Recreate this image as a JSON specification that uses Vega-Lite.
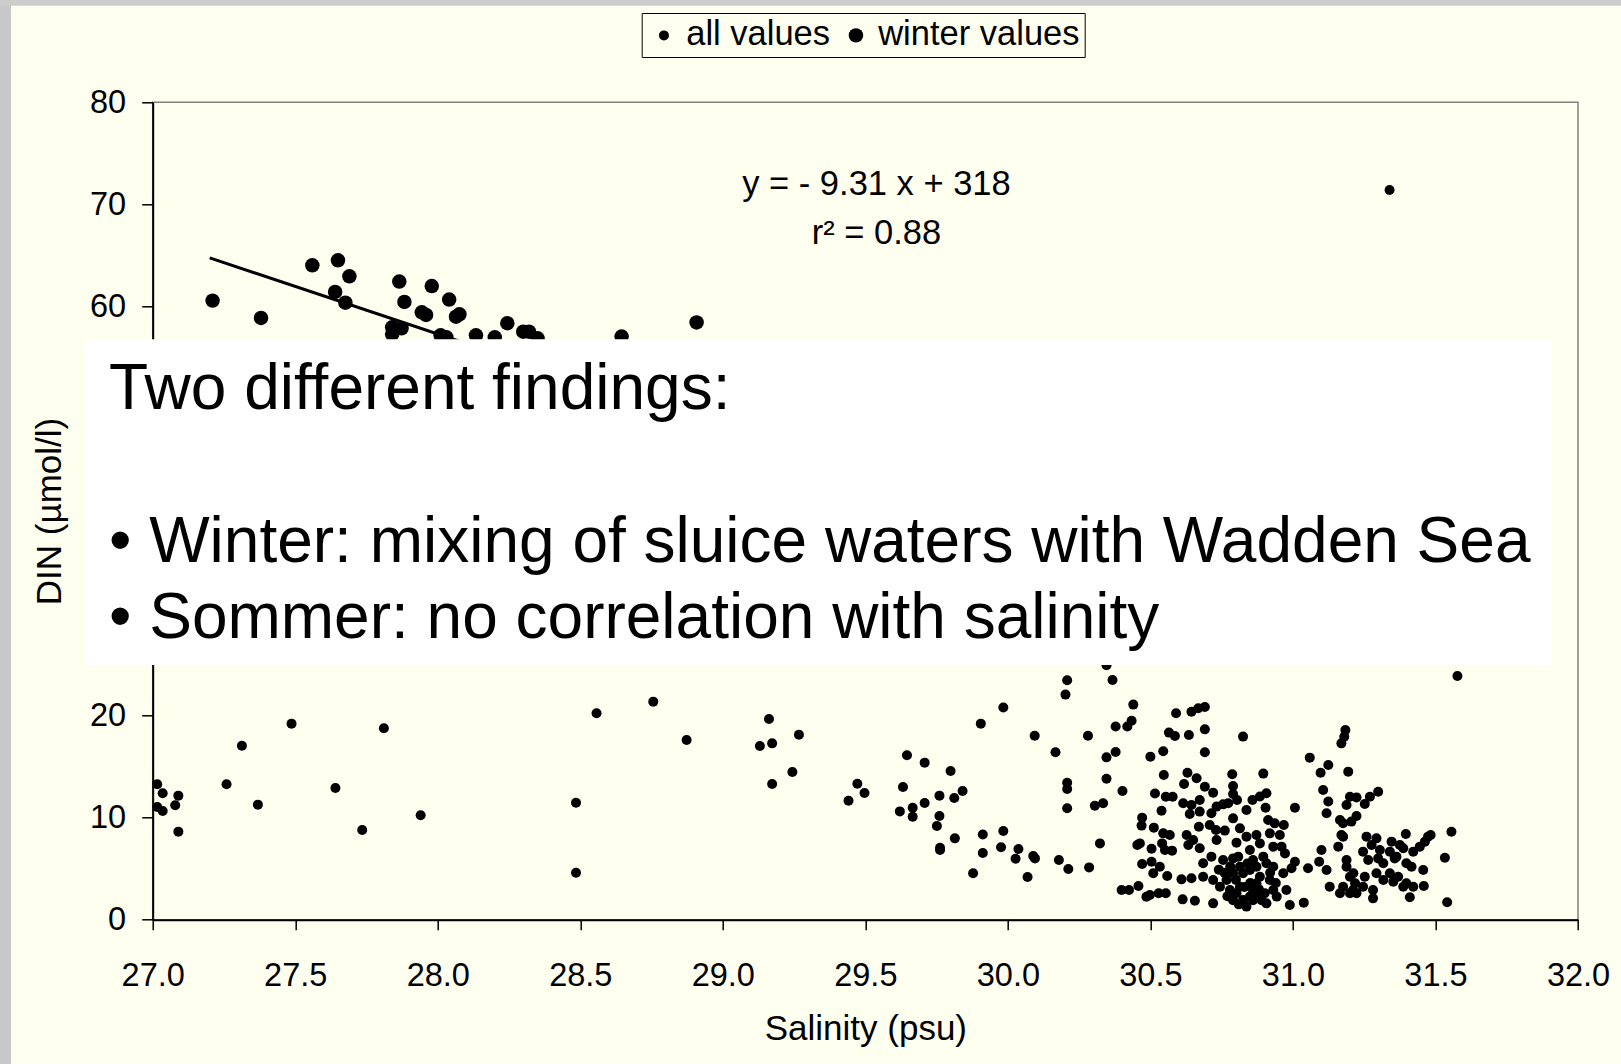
{
  "$schema": "https://vega.github.io/schema/vega-lite/v6.json",
  "width": 1425.3,
  "height": 817.4,
  "autosize": {"type": "none"},
  "padding": {"left": 152.7, "top": 102.3, "right": 43, "bottom": 144.3},
  "background": "#FFFFF0",
  "config": {
    "font": "Liberation Sans",
    "view": {"stroke": "#808080", "strokeWidth": 1.5},
    "axis": {
      "domainColor": "black", "domainWidth": 2, "tickColor": "black", "tickWidth": 1.5,
      "labelColor": "black", "titleColor": "black", "titleFontWeight": "normal", "grid": false,
      "labelFont": "Liberation Sans", "titleFont": "Liberation Sans", "labelFlush": false, "labelOverlap": false,
      "labelFontSize": 32.5, "titleFontSize": 35
    },
    "axisX": {"tickSize": 10, "labelPadding": 30, "titlePadding": 19},
    "axisY": {"tickSize": 11, "labelPadding": 16, "titlePadding": 22}
  },
  "datasets": {
    "fit": [
      {"salinity": 27.2, "din": 64.77},
      {"salinity": 30.5, "din": 34.05}
    ],
    "samples": [
      {"salinity": 27.21, "din": 60.59, "series": "winter values"},
      {"salinity": 27.38, "din": 58.9, "series": "winter values"},
      {"salinity": 27.56, "din": 64.05, "series": "winter values"},
      {"salinity": 27.65, "din": 64.54, "series": "winter values"},
      {"salinity": 27.69, "din": 62.97, "series": "winter values"},
      {"salinity": 27.64, "din": 61.44, "series": "winter values"},
      {"salinity": 27.676, "din": 60.39, "series": "winter values"},
      {"salinity": 27.865, "din": 62.45, "series": "winter values"},
      {"salinity": 27.883, "din": 60.46, "series": "winter values"},
      {"salinity": 27.944, "din": 59.45, "series": "winter values"},
      {"salinity": 27.959, "din": 59.19, "series": "winter values"},
      {"salinity": 27.979, "din": 62.02, "series": "winter values"},
      {"salinity": 28.04, "din": 60.69, "series": "winter values"},
      {"salinity": 28.064, "din": 59.02, "series": "winter values"},
      {"salinity": 28.076, "din": 59.25, "series": "winter values"},
      {"salinity": 27.84, "din": 57.98, "series": "winter values"},
      {"salinity": 27.873, "din": 57.88, "series": "winter values"},
      {"salinity": 27.84, "din": 57.3, "series": "winter values"},
      {"salinity": 28.01, "din": 57.2, "series": "winter values"},
      {"salinity": 28.03, "din": 57.0, "series": "winter values"},
      {"salinity": 28.134, "din": 57.2, "series": "winter values"},
      {"salinity": 28.2, "din": 57.0, "series": "winter values"},
      {"salinity": 28.244, "din": 58.38, "series": "winter values"},
      {"salinity": 28.30, "din": 57.55, "series": "winter values"},
      {"salinity": 28.32, "din": 57.55, "series": "winter values"},
      {"salinity": 28.35, "din": 56.9, "series": "winter values"},
      {"salinity": 28.645, "din": 57.07, "series": "winter values"},
      {"salinity": 28.908, "din": 58.45, "series": "winter values"},
      {"salinity": 28.5, "din": 52.5, "series": "winter values"},
      {"salinity": 28.8, "din": 50.0, "series": "winter values"},
      {"salinity": 29.2, "din": 46.0, "series": "winter values"},
      {"salinity": 29.6, "din": 42.5, "series": "winter values"},
      {"salinity": 30.0, "din": 38.0, "series": "winter values"},
      {"salinity": 30.3, "din": 35.5, "series": "winter values"},
      {"salinity": 27.016, "din": 13.25, "series": "all values"},
      {"salinity": 27.035, "din": 12.37, "series": "all values"},
      {"salinity": 27.090, "din": 12.14, "series": "all values"},
      {"salinity": 27.016, "din": 11.03, "series": "all values"},
      {"salinity": 27.035, "din": 10.64, "series": "all values"},
      {"salinity": 27.079, "din": 11.20, "series": "all values"},
      {"salinity": 27.090, "din": 8.62, "series": "all values"},
      {"salinity": 27.259, "din": 13.25, "series": "all values"},
      {"salinity": 27.313, "din": 17.03, "series": "all values"},
      {"salinity": 27.369, "din": 11.26, "series": "all values"},
      {"salinity": 27.487, "din": 19.19, "series": "all values"},
      {"salinity": 27.641, "din": 12.89, "series": "all values"},
      {"salinity": 27.735, "din": 8.78, "series": "all values"},
      {"salinity": 27.811, "din": 18.73, "series": "all values"},
      {"salinity": 27.940, "din": 10.22, "series": "all values"},
      {"salinity": 28.485, "din": 11.45, "series": "all values"},
      {"salinity": 28.485, "din": 4.60, "series": "all values"},
      {"salinity": 28.557, "din": 20.20, "series": "all values"},
      {"salinity": 28.756, "din": 21.34, "series": "all values"},
      {"salinity": 28.873, "din": 17.59, "series": "all values"},
      {"salinity": 29.162, "din": 19.65, "series": "all values"},
      {"salinity": 29.130, "din": 17.00, "series": "all values"},
      {"salinity": 29.173, "din": 17.26, "series": "all values"},
      {"salinity": 29.267, "din": 18.11, "series": "all values"},
      {"salinity": 29.244, "din": 14.46, "series": "all values"},
      {"salinity": 29.173, "din": 13.28, "series": "all values"},
      {"salinity": 29.472, "din": 13.31, "series": "all values"},
      {"salinity": 29.441, "din": 11.65, "series": "all values"},
      {"salinity": 29.497, "din": 12.40, "series": "all values"},
      {"salinity": 29.646, "din": 16.09, "series": "all values"},
      {"salinity": 29.708, "din": 15.37, "series": "all values"},
      {"salinity": 29.799, "din": 14.55, "series": "all values"},
      {"salinity": 29.632, "din": 12.98, "series": "all values"},
      {"salinity": 29.621, "din": 10.60, "series": "all values"},
      {"salinity": 29.666, "din": 10.96, "series": "all values"},
      {"salinity": 29.666, "din": 10.08, "series": "all values"},
      {"salinity": 29.708, "din": 11.42, "series": "all values"},
      {"salinity": 29.760, "din": 12.14, "series": "all values"},
      {"salinity": 29.812, "din": 11.91, "series": "all values"},
      {"salinity": 29.841, "din": 12.60, "series": "all values"},
      {"salinity": 29.760, "din": 10.15, "series": "all values"},
      {"salinity": 29.751, "din": 9.17, "series": "all values"},
      {"salinity": 29.814, "din": 7.96, "series": "all values"},
      {"salinity": 29.762, "din": 7.05, "series": "all values"},
      {"salinity": 29.762, "din": 6.82, "series": "all values"},
      {"salinity": 29.878, "din": 4.54, "series": "all values"},
      {"salinity": 29.905, "din": 19.19, "series": "all values"},
      {"salinity": 29.984, "din": 20.76, "series": "all values"},
      {"salinity": 29.912, "din": 8.33, "series": "all values"},
      {"salinity": 29.912, "din": 6.53, "series": "all values"},
      {"salinity": 29.984, "din": 8.68, "series": "all values"},
      {"salinity": 29.976, "din": 7.09, "series": "all values"},
      {"salinity": 30.037, "din": 6.92, "series": "all values"},
      {"salinity": 30.027, "din": 5.97, "series": "all values"},
      {"salinity": 30.089, "din": 6.23, "series": "all values"},
      {"salinity": 30.095, "din": 6.00, "series": "all values"},
      {"salinity": 30.069, "din": 4.18, "series": "all values"},
      {"salinity": 30.094, "din": 18.01, "series": "all values"},
      {"salinity": 30.167, "din": 16.38, "series": "all values"},
      {"salinity": 30.179, "din": 5.84, "series": "all values"},
      {"salinity": 30.212, "din": 4.96, "series": "all values"},
      {"salinity": 30.208, "din": 23.43, "series": "all values"},
      {"salinity": 30.202, "din": 22.03, "series": "all values"},
      {"salinity": 30.208, "din": 13.41, "series": "all values"},
      {"salinity": 30.208, "din": 12.79, "series": "all values"},
      {"salinity": 30.208, "din": 10.90, "series": "all values"},
      {"salinity": 30.281, "din": 18.01, "series": "all values"},
      {"salinity": 30.285, "din": 5.12, "series": "all values"},
      {"salinity": 30.305, "din": 11.16, "series": "all values"},
      {"salinity": 30.334, "din": 11.39, "series": "all values"},
      {"salinity": 30.323, "din": 7.47, "series": "all values"},
      {"salinity": 30.346, "din": 24.9, "series": "all values"},
      {"salinity": 30.367, "din": 23.46, "series": "all values"},
      {"salinity": 30.346, "din": 15.89, "series": "all values"},
      {"salinity": 30.378, "din": 16.42, "series": "all values"},
      {"salinity": 30.346, "din": 13.80, "series": "all values"},
      {"salinity": 30.378, "din": 18.90, "series": "all values"},
      {"salinity": 30.419, "din": 18.90, "series": "all values"},
      {"salinity": 30.434, "din": 19.48, "series": "all values"},
      {"salinity": 30.440, "din": 21.05, "series": "all values"},
      {"salinity": 30.402, "din": 12.60, "series": "all values"},
      {"salinity": 30.399, "din": 2.91, "series": "all values"},
      {"salinity": 30.425, "din": 2.91, "series": "all values"},
      {"salinity": 30.458, "din": 3.30, "series": "all values"},
      {"salinity": 30.454, "din": 7.31, "series": "all values"},
      {"salinity": 30.463, "din": 7.47, "series": "all values"},
      {"salinity": 30.471, "din": 5.45, "series": "all values"},
      {"salinity": 30.504, "din": 5.68, "series": "all values"},
      {"salinity": 30.533, "din": 5.19, "series": "all values"},
      {"salinity": 30.510, "din": 4.54, "series": "all values"},
      {"salinity": 30.559, "din": 4.28, "series": "all values"},
      {"salinity": 30.486, "din": 2.25, "series": "all values"},
      {"salinity": 30.498, "din": 2.42, "series": "all values"},
      {"salinity": 30.529, "din": 2.58, "series": "all values"},
      {"salinity": 30.554, "din": 2.58, "series": "all values"},
      {"salinity": 30.471, "din": 9.99, "series": "all values"},
      {"salinity": 30.469, "din": 9.21, "series": "all values"},
      {"salinity": 30.512, "din": 9.01, "series": "all values"},
      {"salinity": 30.539, "din": 10.67, "series": "all values"},
      {"salinity": 30.516, "din": 12.36, "series": "all values"},
      {"salinity": 30.547, "din": 14.16, "series": "all values"},
      {"salinity": 30.500, "din": 15.96, "series": "all values"},
      {"salinity": 30.545, "din": 16.48, "series": "all values"},
      {"salinity": 30.565, "din": 18.31, "series": "all values"},
      {"salinity": 30.586, "din": 17.98, "series": "all values"},
      {"salinity": 30.590, "din": 20.20, "series": "all values"},
      {"salinity": 30.504, "din": 6.95, "series": "all values"},
      {"salinity": 30.545, "din": 8.45, "series": "all values"},
      {"salinity": 30.568, "din": 8.29, "series": "all values"},
      {"salinity": 30.541, "din": 7.47, "series": "all values"},
      {"salinity": 30.551, "din": 6.82, "series": "all values"},
      {"salinity": 30.576, "din": 6.76, "series": "all values"},
      {"salinity": 30.554, "din": 12.03, "series": "all values"},
      {"salinity": 30.578, "din": 12.03, "series": "all values"},
      {"salinity": 30.691, "din": 20.81, "series": "all values"},
      {"salinity": 30.668, "din": 20.69, "series": "all values"},
      {"salinity": 30.644, "din": 20.36, "series": "all values"},
      {"salinity": 30.691, "din": 18.63, "series": "all values"},
      {"salinity": 30.635, "din": 18.07, "series": "all values"},
      {"salinity": 30.825, "din": 17.92, "series": "all values"},
      {"salinity": 30.691, "din": 16.38, "series": "all values"},
      {"salinity": 30.630, "din": 14.39, "series": "all values"},
      {"salinity": 30.662, "din": 13.84, "series": "all values"},
      {"salinity": 30.618, "din": 13.28, "series": "all values"},
      {"salinity": 30.691, "din": 13.02, "series": "all values"},
      {"salinity": 30.720, "din": 12.43, "series": "all values"},
      {"salinity": 30.787, "din": 14.23, "series": "all values"},
      {"salinity": 30.896, "din": 14.30, "series": "all values"},
      {"salinity": 30.790, "din": 13.09, "series": "all values"},
      {"salinity": 30.790, "din": 12.30, "series": "all values"},
      {"salinity": 30.804, "din": 11.72, "series": "all values"},
      {"salinity": 30.673, "din": 11.72, "series": "all values"},
      {"salinity": 30.615, "din": 11.39, "series": "all values"},
      {"salinity": 30.644, "din": 11.23, "series": "all values"},
      {"salinity": 30.673, "din": 10.58, "series": "all values"},
      {"salinity": 30.638, "din": 10.35, "series": "all values"},
      {"salinity": 30.714, "din": 10.41, "series": "all values"},
      {"salinity": 30.732, "din": 11.07, "series": "all values"},
      {"salinity": 30.755, "din": 11.29, "series": "all values"},
      {"salinity": 30.773, "din": 11.39, "series": "all values"},
      {"salinity": 30.837, "din": 10.74, "series": "all values"},
      {"salinity": 30.858, "din": 11.72, "series": "all values"},
      {"salinity": 30.884, "din": 12.05, "series": "all values"},
      {"salinity": 30.907, "din": 12.37, "series": "all values"},
      {"salinity": 30.904, "din": 10.96, "series": "all values"},
      {"salinity": 31.007, "din": 10.96, "series": "all values"},
      {"salinity": 30.790, "din": 9.92, "series": "all values"},
      {"salinity": 30.814, "din": 8.94, "series": "all values"},
      {"salinity": 30.913, "din": 9.76, "series": "all values"},
      {"salinity": 30.936, "din": 9.43, "series": "all values"},
      {"salinity": 30.968, "din": 9.27, "series": "all values"},
      {"salinity": 30.954, "din": 8.29, "series": "all values"},
      {"salinity": 30.670, "din": 9.10, "series": "all values"},
      {"salinity": 30.708, "din": 9.27, "series": "all values"},
      {"salinity": 30.730, "din": 8.78, "series": "all values"},
      {"salinity": 30.761, "din": 8.72, "series": "all values"},
      {"salinity": 30.627, "din": 8.29, "series": "all values"},
      {"salinity": 30.650, "din": 7.80, "series": "all values"},
      {"salinity": 30.633, "din": 7.31, "series": "all values"},
      {"salinity": 30.673, "din": 6.99, "series": "all values"},
      {"salinity": 30.732, "din": 7.80, "series": "all values"},
      {"salinity": 30.802, "din": 7.54, "series": "all values"},
      {"salinity": 30.837, "din": 8.13, "series": "all values"},
      {"salinity": 30.872, "din": 8.29, "series": "all values"},
      {"salinity": 30.884, "din": 7.47, "series": "all values"},
      {"salinity": 30.919, "din": 8.45, "series": "all values"},
      {"salinity": 30.931, "din": 7.15, "series": "all values"},
      {"salinity": 30.960, "din": 7.15, "series": "all values"},
      {"salinity": 30.972, "din": 6.49, "series": "all values"},
      {"salinity": 31.007, "din": 5.68, "series": "all values"},
      {"salinity": 30.995, "din": 5.03, "series": "all values"},
      {"salinity": 30.966, "din": 4.54, "series": "all values"},
      {"salinity": 30.685, "din": 5.52, "series": "all values"},
      {"salinity": 30.714, "din": 6.17, "series": "all values"},
      {"salinity": 30.755, "din": 5.84, "series": "all values"},
      {"salinity": 30.790, "din": 6.00, "series": "all values"},
      {"salinity": 30.808, "din": 6.17, "series": "all values"},
      {"salinity": 30.849, "din": 6.82, "series": "all values"},
      {"salinity": 30.860, "din": 5.84, "series": "all values"},
      {"salinity": 30.896, "din": 6.17, "series": "all values"},
      {"salinity": 30.907, "din": 5.52, "series": "all values"},
      {"salinity": 30.931, "din": 5.19, "series": "all values"},
      {"salinity": 30.685, "din": 4.21, "series": "all values"},
      {"salinity": 30.720, "din": 3.89, "series": "all values"},
      {"salinity": 30.744, "din": 3.23, "series": "all values"},
      {"salinity": 30.767, "din": 3.89, "series": "all values"},
      {"salinity": 30.779, "din": 2.91, "series": "all values"},
      {"salinity": 30.802, "din": 2.58, "series": "all values"},
      {"salinity": 30.814, "din": 3.23, "series": "all values"},
      {"salinity": 30.825, "din": 1.93, "series": "all values"},
      {"salinity": 30.837, "din": 1.28, "series": "all values"},
      {"salinity": 30.849, "din": 2.26, "series": "all values"},
      {"salinity": 30.860, "din": 2.91, "series": "all values"},
      {"salinity": 30.872, "din": 3.56, "series": "all values"},
      {"salinity": 30.884, "din": 4.21, "series": "all values"},
      {"salinity": 30.901, "din": 2.58, "series": "all values"},
      {"salinity": 30.907, "din": 1.60, "series": "all values"},
      {"salinity": 30.825, "din": 4.54, "series": "all values"},
      {"salinity": 30.849, "din": 4.86, "series": "all values"},
      {"salinity": 30.872, "din": 5.19, "series": "all values"},
      {"salinity": 30.790, "din": 4.54, "series": "all values"},
      {"salinity": 30.919, "din": 3.89, "series": "all values"},
      {"salinity": 30.931, "din": 2.91, "series": "all values"},
      {"salinity": 30.943, "din": 2.26, "series": "all values"},
      {"salinity": 30.977, "din": 2.91, "series": "all values"},
      {"salinity": 30.989, "din": 1.44, "series": "all values"},
      {"salinity": 31.038, "din": 1.67, "series": "all values"},
      {"salinity": 30.720, "din": 1.60, "series": "all values"},
      {"salinity": 30.656, "din": 1.86, "series": "all values"},
      {"salinity": 30.613, "din": 1.99, "series": "all values"},
      {"salinity": 30.609, "din": 3.95, "series": "all values"},
      {"salinity": 30.644, "din": 4.05, "series": "all values"},
      {"salinity": 30.814, "din": 5.19, "series": "all values"},
      {"salinity": 30.76, "din": 4.6, "series": "all values"},
      {"salinity": 30.80, "din": 3.9, "series": "all values"},
      {"salinity": 30.83, "din": 3.2, "series": "all values"},
      {"salinity": 30.85, "din": 3.6, "series": "all values"},
      {"salinity": 30.86, "din": 1.9, "series": "all values"},
      {"salinity": 30.87, "din": 2.5, "series": "all values"},
      {"salinity": 30.79, "din": 1.9, "series": "all values"},
      {"salinity": 30.81, "din": 1.5, "series": "all values"},
      {"salinity": 30.88, "din": 3.0, "series": "all values"},
      {"salinity": 30.84, "din": 5.5, "series": "all values"},
      {"salinity": 30.78, "din": 5.2, "series": "all values"},
      {"salinity": 30.74, "din": 4.9, "series": "all values"},
      {"salinity": 30.77, "din": 2.3, "series": "all values"},
      {"salinity": 30.89, "din": 1.9, "series": "all values"},
      {"salinity": 30.92, "din": 4.6, "series": "all values"},
      {"salinity": 30.94, "din": 3.6, "series": "all values"},
      {"salinity": 31.059, "din": 15.86, "series": "all values"},
      {"salinity": 31.124, "din": 15.14, "series": "all values"},
      {"salinity": 31.097, "din": 14.39, "series": "all values"},
      {"salinity": 31.194, "din": 14.49, "series": "all values"},
      {"salinity": 31.184, "din": 18.57, "series": "all values"},
      {"salinity": 31.180, "din": 17.9, "series": "all values"},
      {"salinity": 31.170, "din": 17.26, "series": "all values"},
      {"salinity": 31.106, "din": 12.69, "series": "all values"},
      {"salinity": 31.124, "din": 11.56, "series": "all values"},
      {"salinity": 31.118, "din": 10.41, "series": "all values"},
      {"salinity": 31.100, "din": 6.82, "series": "all values"},
      {"salinity": 31.092, "din": 5.68, "series": "all values"},
      {"salinity": 31.053, "din": 5.03, "series": "all values"},
      {"salinity": 31.188, "din": 11.23, "series": "all values"},
      {"salinity": 31.165, "din": 9.76, "series": "all values"},
      {"salinity": 31.170, "din": 8.29, "series": "all values"},
      {"salinity": 31.159, "din": 7.15, "series": "all values"},
      {"salinity": 31.118, "din": 4.86, "series": "all values"},
      {"salinity": 31.129, "din": 3.23, "series": "all values"},
      {"salinity": 31.165, "din": 2.58, "series": "all values"},
      {"salinity": 31.200, "din": 4.21, "series": "all values"},
      {"salinity": 31.188, "din": 5.84, "series": "all values"},
      {"salinity": 31.211, "din": 2.91, "series": "all values"},
      {"salinity": 31.223, "din": 2.58, "series": "all values"},
      {"salinity": 31.577, "din": 23.85, "series": "all values"},
      {"salinity": 31.299, "din": 12.53, "series": "all values"},
      {"salinity": 31.270, "din": 12.04, "series": "all values"},
      {"salinity": 31.252, "din": 11.32, "series": "all values"},
      {"salinity": 31.223, "din": 11.97, "series": "all values"},
      {"salinity": 31.200, "din": 12.04, "series": "all values"},
      {"salinity": 31.223, "din": 10.15, "series": "all values"},
      {"salinity": 31.205, "din": 9.60, "series": "all values"},
      {"salinity": 31.176, "din": 9.44, "series": "all values"},
      {"salinity": 31.258, "din": 8.13, "series": "all values"},
      {"salinity": 31.293, "din": 7.96, "series": "all values"},
      {"salinity": 31.346, "din": 7.64, "series": "all values"},
      {"salinity": 31.396, "din": 8.39, "series": "all values"},
      {"salinity": 31.474, "din": 8.13, "series": "all values"},
      {"salinity": 31.483, "din": 8.29, "series": "all values"},
      {"salinity": 31.463, "din": 7.64, "series": "all values"},
      {"salinity": 31.445, "din": 7.15, "series": "all values"},
      {"salinity": 31.422, "din": 6.66, "series": "all values"},
      {"salinity": 31.387, "din": 6.99, "series": "all values"},
      {"salinity": 31.340, "din": 6.66, "series": "all values"},
      {"salinity": 31.305, "din": 6.82, "series": "all values"},
      {"salinity": 31.276, "din": 7.31, "series": "all values"},
      {"salinity": 31.246, "din": 6.66, "series": "all values"},
      {"salinity": 31.264, "din": 5.84, "series": "all values"},
      {"salinity": 31.317, "din": 5.52, "series": "all values"},
      {"salinity": 31.357, "din": 6.00, "series": "all values"},
      {"salinity": 31.398, "din": 5.52, "series": "all values"},
      {"salinity": 31.416, "din": 5.19, "series": "all values"},
      {"salinity": 31.457, "din": 4.86, "series": "all values"},
      {"salinity": 31.533, "din": 6.07, "series": "all values"},
      {"salinity": 31.556, "din": 8.61, "series": "all values"},
      {"salinity": 31.541, "din": 1.70, "series": "all values"},
      {"salinity": 31.459, "din": 3.30, "series": "all values"},
      {"salinity": 31.410, "din": 2.19, "series": "all values"},
      {"salinity": 31.387, "din": 3.23, "series": "all values"},
      {"salinity": 31.352, "din": 3.72, "series": "all values"},
      {"salinity": 31.317, "din": 3.89, "series": "all values"},
      {"salinity": 31.281, "din": 2.91, "series": "all values"},
      {"salinity": 31.281, "din": 2.09, "series": "all values"},
      {"salinity": 31.246, "din": 3.23, "series": "all values"},
      {"salinity": 31.252, "din": 4.21, "series": "all values"},
      {"salinity": 31.293, "din": 4.54, "series": "all values"},
      {"salinity": 31.340, "din": 4.54, "series": "all values"},
      {"salinity": 31.369, "din": 4.21, "series": "all values"},
      {"salinity": 31.398, "din": 3.56, "series": "all values"},
      {"salinity": 31.422, "din": 3.23, "series": "all values"},
      {"salinity": 31.299, "din": 6.00, "series": "all values"},
      {"salinity": 31.363, "din": 6.17, "series": "all values"},
      {"salinity": 31.375, "din": 7.31, "series": "all values"},
      {"salinity": 31.176, "din": 8.13, "series": "all values"},
      {"salinity": 31.188, "din": 5.19, "series": "all values"},
      {"salinity": 31.212, "din": 4.54, "series": "all values"},
      {"salinity": 31.200, "din": 2.58, "series": "all values"},
      {"salinity": 31.218, "din": 3.56, "series": "all values"},
      {"salinity": 31.176, "din": 3.23, "series": "all values"},
      {"salinity": 31.339, "din": 71.42, "series": "all values"}
    ]
  },
  "layer": [
    {
      "data": {"values": [{}]},
      "mark": {"type": "rect", "color": "#c8c8c8"},
      "encoding": {
        "x": {"datum": 25.9, "type": "quantitative", "scale": {"domain": [27, 32], "nice": false, "zero": false}, "axis": {"title": "Salinity (psu)", "values": [27, 27.5, 28, 28.5, 29, 29.5, 30, 30.5, 31, 31.5, 32], "format": ".1f"}},
        "x2": {"datum": 26.503},
        "y": {"datum": -20, "type": "quantitative", "scale": {"domain": [0, 80], "nice": false, "zero": false}, "axis": {"title": "DIN (µmol/l)", "values": [0, 10, 20, 60, 70, 80]}},
        "y2": {"datum": 95}
      }
    },
    {
      "data": {"values": [{}]},
      "mark": {"type": "rect", "color": "#cccccc"},
      "encoding": {
        "x": {"datum": 25.9, "type": "quantitative", "scale": {"domain": [27, 32], "nice": false, "zero": false}, "axis": {"title": "Salinity (psu)", "values": [27, 27.5, 28, 28.5, 29, 29.5, 30, 30.5, 31, 31.5, 32], "format": ".1f"}},
        "x2": {"datum": 32.4},
        "y": {"datum": 89.45, "type": "quantitative", "scale": {"domain": [0, 80], "nice": false, "zero": false}, "axis": {"title": "DIN (µmol/l)", "values": [0, 10, 20, 60, 70, 80]}},
        "y2": {"datum": 95}
      }
    },
    {
      "data": {"name": "fit"},
      "mark": {"type": "line", "color": "black", "strokeWidth": 3},
      "encoding": {
        "x": {"field": "salinity", "type": "quantitative", "scale": {"domain": [27, 32], "nice": false, "zero": false}, "axis": {"title": "Salinity (psu)", "values": [27, 27.5, 28, 28.5, 29, 29.5, 30, 30.5, 31, 31.5, 32], "format": ".1f"}},
        "y": {"field": "din", "type": "quantitative", "scale": {"domain": [0, 80], "nice": false, "zero": false}, "axis": {"title": "DIN (µmol/l)", "values": [0, 10, 20, 60, 70, 80]}}
      }
    },
    {
      "data": {"name": "samples"},
      "mark": {"type": "circle", "color": "black", "opacity": 1},
      "encoding": {
        "x": {"field": "salinity", "type": "quantitative", "scale": {"domain": [27, 32], "nice": false, "zero": false}, "axis": {"title": "Salinity (psu)", "values": [27, 27.5, 28, 28.5, 29, 29.5, 30, 30.5, 31, 31.5, 32], "format": ".1f"}},
        "y": {"field": "din", "type": "quantitative", "scale": {"domain": [0, 80], "nice": false, "zero": false}, "axis": {"title": "DIN (µmol/l)", "values": [0, 10, 20, 60, 70, 80]}},
        "size": {
          "field": "series", "type": "ordinal",
          "scale": {"type": "ordinal", "domain": ["all values", "winter values"], "range": [100, 210]},
          "legend": {
            "title": null, "orient": "none", "legendX": 489, "legendY": -89.3, "direction": "horizontal",
            "strokeColor": "black", "fillColor": "#FFFFF0", "padding": 5,
            "labelFontSize": 34.5, "labelFont": "Liberation Sans", "labelColor": "black", "labelLimit": 500,
            "labelOffset": 5, "columnPadding": 8, "symbolType": "circle",
            "symbolFillColor": "black", "symbolStrokeColor": "black", "symbolStrokeWidth": 0
          }
        }
      }
    },
    {
      "data": {"values": [{}]},
      "mark": {"type": "rect", "color": "#FFFFFF"},
      "encoding": {
        "x": {"datum": 26.766, "type": "quantitative", "scale": {"domain": [27, 32], "nice": false, "zero": false}, "axis": {"title": "Salinity (psu)", "values": [27, 27.5, 28, 28.5, 29, 29.5, 30, 30.5, 31, 31.5, 32], "format": ".1f"}},
        "x2": {"datum": 31.905},
        "y": {"datum": 56.82, "type": "quantitative", "scale": {"domain": [0, 80], "nice": false, "zero": false}, "axis": {"title": "DIN (µmol/l)", "values": [0, 10, 20, 60, 70, 80]}},
        "y2": {"datum": 24.93}
      }
    },
    {
      "data": {"values": [{}]},
      "mark": {"type": "text", "text": "Two different findings:", "font": "Liberation Sans", "fontSize": 64, "color": "black", "align": "left", "baseline": "alphabetic"},
      "encoding": {
        "x": {"datum": 26.8467, "type": "quantitative", "scale": {"domain": [27, 32], "nice": false, "zero": false}, "axis": {"title": "Salinity (psu)", "values": [27, 27.5, 28, 28.5, 29, 29.5, 30, 30.5, 31, 31.5, 32], "format": ".1f"}},
        "y": {"datum": 50.0, "type": "quantitative", "scale": {"domain": [0, 80], "nice": false, "zero": false}, "axis": {"title": "DIN (µmol/l)", "values": [0, 10, 20, 60, 70, 80]}}
      }
    },
    {
      "data": {"values": [{}]},
      "mark": {"type": "text", "text": "• Winter: mixing of sluice waters with Wadden Sea", "font": "Liberation Sans", "fontSize": 64, "color": "black", "align": "left", "baseline": "alphabetic"},
      "encoding": {
        "x": {"datum": 26.8467, "type": "quantitative", "scale": {"domain": [27, 32], "nice": false, "zero": false}, "axis": {"title": "Salinity (psu)", "values": [27, 27.5, 28, 28.5, 29, 29.5, 30, 30.5, 31, 31.5, 32], "format": ".1f"}},
        "y": {"datum": 34.96, "type": "quantitative", "scale": {"domain": [0, 80], "nice": false, "zero": false}, "axis": {"title": "DIN (µmol/l)", "values": [0, 10, 20, 60, 70, 80]}}
      }
    },
    {
      "data": {"values": [{}]},
      "mark": {"type": "text", "text": "• Sommer: no correlation with salinity", "font": "Liberation Sans", "fontSize": 64, "color": "black", "align": "left", "baseline": "alphabetic"},
      "encoding": {
        "x": {"datum": 26.8467, "type": "quantitative", "scale": {"domain": [27, 32], "nice": false, "zero": false}, "axis": {"title": "Salinity (psu)", "values": [27, 27.5, 28, 28.5, 29, 29.5, 30, 30.5, 31, 31.5, 32], "format": ".1f"}},
        "y": {"datum": 27.53, "type": "quantitative", "scale": {"domain": [0, 80], "nice": false, "zero": false}, "axis": {"title": "DIN (µmol/l)", "values": [0, 10, 20, 60, 70, 80]}}
      }
    },
    {
      "data": {"values": [{}]},
      "mark": {"type": "text", "text": "y = - 9.31 x + 318", "font": "Liberation Sans", "fontSize": 34.5, "color": "black", "align": "center", "baseline": "alphabetic"},
      "encoding": {
        "x": {"datum": 29.539, "type": "quantitative", "scale": {"domain": [27, 32], "nice": false, "zero": false}, "axis": {"title": "Salinity (psu)", "values": [27, 27.5, 28, 28.5, 29, 29.5, 30, 30.5, 31, 31.5, 32], "format": ".1f"}},
        "y": {"datum": 70.91, "type": "quantitative", "scale": {"domain": [0, 80], "nice": false, "zero": false}, "axis": {"title": "DIN (µmol/l)", "values": [0, 10, 20, 60, 70, 80]}}
      }
    },
    {
      "data": {"values": [{}]},
      "mark": {"type": "text", "text": "r² = 0.88", "font": "Liberation Sans", "fontSize": 34.5, "color": "black", "align": "center", "baseline": "alphabetic"},
      "encoding": {
        "x": {"datum": 29.539, "type": "quantitative", "scale": {"domain": [27, 32], "nice": false, "zero": false}, "axis": {"title": "Salinity (psu)", "values": [27, 27.5, 28, 28.5, 29, 29.5, 30, 30.5, 31, 31.5, 32], "format": ".1f"}},
        "y": {"datum": 66.15, "type": "quantitative", "scale": {"domain": [0, 80], "nice": false, "zero": false}, "axis": {"title": "DIN (µmol/l)", "values": [0, 10, 20, 60, 70, 80]}}
      }
    }
  ]
}
